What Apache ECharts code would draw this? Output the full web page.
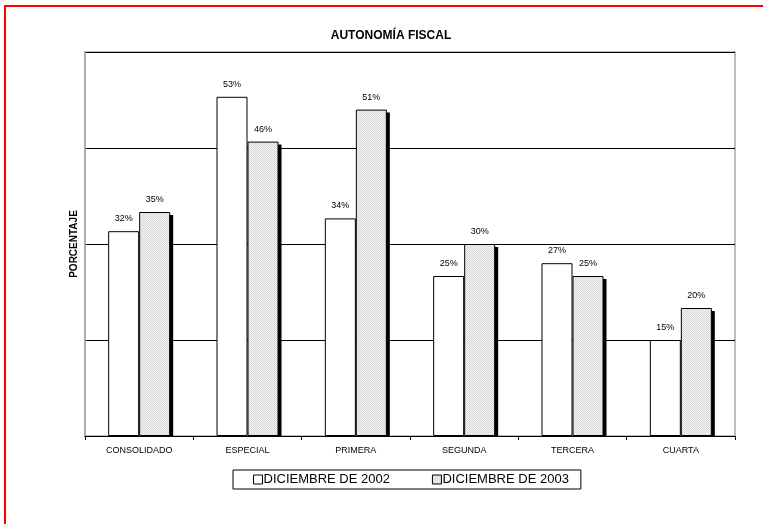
<!DOCTYPE html>
<html>
<head>
<meta charset="utf-8">
<script src="https://cdn.jsdelivr.net/npm/echarts@6/dist/echarts.min.js"></script>
<style>html,body{margin:0;padding:0;background:#fff}#c{width:763px;height:524px}</style>
</head>
<body>
<div id="c"></div>
<script>
const categories = ['CONSOLIDADO', 'ESPECIAL', 'PRIMERA', 'SEGUNDA', 'TERCERA', 'CUARTA'];
const dic2002 = [32, 53, 34, 25, 27, 15];
const dic2003 = [35, 46, 51, 30, 25, 20];
const seriesNames = ['DICIEMBRE DE 2002', 'DICIEMBRE DE 2003'];

// dotted fill pattern
const pc = document.createElement('canvas');
pc.width = 2; pc.height = 2;
const px = pc.getContext('2d');
px.fillStyle = '#f7f7f7'; px.fillRect(0, 0, 2, 2);
px.fillStyle = '#d4d4d4'; px.fillRect(0, 0, 1, 1); px.fillRect(1, 1, 1, 1);

const BAR_W = 31;
const chart = echarts.init(document.getElementById('c'), null, {renderer: 'canvas'});
const font = 'Liberation Sans, Arial, sans-serif';
chart.setOption({
  animation: false,
  backgroundColor: '#fff',
  textStyle: {fontFamily: font},
  title: {
    text: 'AUTONOMÍA FISCAL', left: 386, top: 25, textAlign: 'center',
    textStyle: {fontSize: 12, fontWeight: 'bold', color: '#000', fontFamily: font}
  },
  graphic: [{
    type: 'rect', shape: {x: 5, y: 6, width: 800, height: 600},
    style: {fill: 'none', stroke: '#ff0000', lineWidth: 2}, silent: true
  }],
  legend: {
    left: 233, top: 470, width: 349,
    data: seriesNames,
    itemWidth: 9, itemHeight: 9, itemGap: 42, icon: 'rect',
    itemStyle: {borderWidth: 1, borderColor: '#000'},
    borderColor: '#000', borderWidth: 1, padding: [3, 12, 3, 20],
    textStyle: {fontSize: 13, color: '#000', fontFamily: font, padding: [0, 0, 0, -4]}
  },
  grid: {left: 85, right: 28, top: 52, bottom: 88, show: true, borderColor: '#a8a8a8', borderWidth: 1.5},
  xAxis: {
    type: 'category', data: categories,
    axisLine: {lineStyle: {color: '#000'}},
    axisTick: {show: true, length: 4, lineStyle: {color: '#000'}},
    axisLabel: {fontSize: 9, color: '#000', margin: 10, fontFamily: font}
  },
  yAxis: {
    type: 'value', min: 0, max: 60, interval: 15,
    name: 'PORCENTAJE', nameLocation: 'middle', nameGap: 6, nameRotate: 90,
    nameTextStyle: {fontSize: 10, fontWeight: 'bold', color: '#000', fontFamily: font},
    axisLabel: {show: false},
    axisTick: {show: false},
    axisLine: {show: true, lineStyle: {color: '#a8a8a8', width: 1.5}},
    splitLine: {show: true, lineStyle: {color: '#000', width: 1}}
  },
  series: [{
    name: seriesNames[0], type: 'bar', data: dic2002, barWidth: BAR_W, barGap: '0%', z: 3,
    itemStyle: {color: '#ffffff', borderColor: '#000', borderWidth: 1},
    label: {show: true, position: 'top', distance: 8, formatter: '{c}%', fontSize: 9, color: '#000', fontFamily: font}
  }, {
    name: seriesNames[1], type: 'bar', data: dic2003, barWidth: BAR_W, barGap: '0%', z: 3,
    itemStyle: {color: {image: pc, repeat: 'repeat'}, borderColor: '#000', borderWidth: 1},
    label: {show: true, position: 'top', distance: 8, formatter: '{c}%', fontSize: 9, color: '#000', fontFamily: font}
  }, {
    name: 'shadow', type: 'custom', data: dic2003.map((v, i) => [i, v]), z: 2, silent: true,
    renderItem: function (params, api) {
      const top = api.coord([api.value(0), api.value(1)]);
      const base = api.coord([api.value(0), 0]);
      return {
        type: 'rect',
        shape: {x: top[0] + 3, y: top[1] + 3, width: BAR_W, height: base[1] - top[1] - 3},
        style: {fill: '#000'}
      };
    }
  }]
});
</script>
</body>
</html>
